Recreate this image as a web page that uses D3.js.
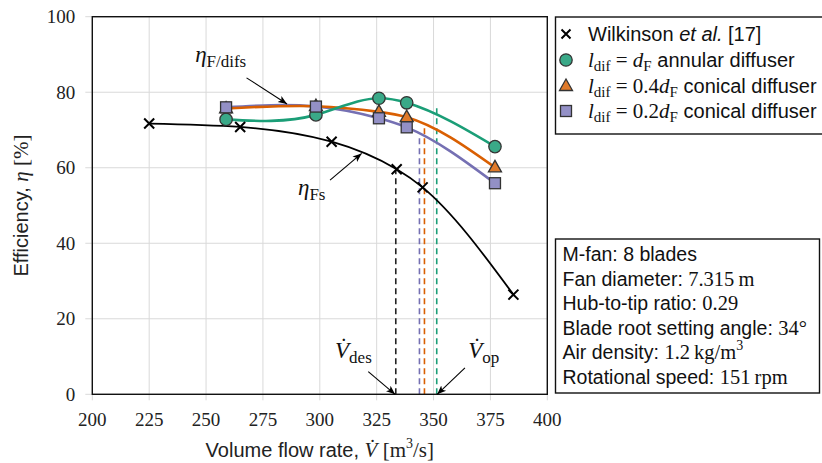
<!DOCTYPE html>
<html><head><meta charset="utf-8">
<script src="https://cdn.jsdelivr.net/npm/d3@7"></script>
<style>
body{margin:0;background:#fff;}
svg{display:block;}
text{font-family:"Liberation Sans",Arial,sans-serif;}
.serif{font-family:"Liberation Serif","Times New Roman",serif;}
</style></head>
<body><svg id="chart" width="822" height="463"></svg>
<script>
// ---------- data ----------
const xTicks = [200,225,250,275,300,325,350,375,400];
const yTicks = [0,20,40,60,80,100];

const wilkFlow = [225, 265, 305.2, 333.8, 345.2, 385.1];
const wilkEff  = [71.7, 70.8, 66.9, 59.6, 54.8, 26.4];

const cfdFlow   = [258.8, 298.3, 326.0, 338.2, 377.0];
const annularEff = [72.8, 74.0, 78.4, 77.2, 65.6];
const conical04Eff = [75.7, 76.3, 74.8, 73.4, 60.1];
const conical02Eff = [76.0, 76.2, 73.1, 70.7, 55.9];

// operating points (dashed lines): flow, efficiency
const opFlow = [333.4, 343.8, 346.0, 351.4];
const opEff  = [59.4, 68.7, 70.9, 75.8];
const opColor = ["#222","#7570b3","#d95f02","#1b9e77"];

const legendLabels = ["Wilkinson", "annular diffuser", "conical diffuser", "conical diffuser"];
const infoLines = [
  ["M-fan: 8 blades", ""],
  ["Fan diameter: ", "7.315\u2009m"],
  ["Hub-to-tip ratio: ", "0.29"],
  ["Blade root setting angle: ", "34°"],
  ["Air density: ", "1.2\u2009kg/m"],
  ["Rotational speed: ", "151\u2009rpm"]
];

// ---------- custom curve: natural cubic spline in x ----------
function SplineX(context){ this._context = context; }
SplineX.prototype = {
  areaStart(){ this._line = 0; }, areaEnd(){ this._line = NaN; },
  lineStart(){ this._x = []; this._y = []; },
  point(x, y){ this._x.push(+x); this._y.push(+y); },
  lineEnd(){
    const X = this._x, Y = this._y, n = X.length, c = this._context;
    if (!n) return;
    c.moveTo(X[0], Y[0]);
    if (n < 3){ for(let i=1;i<n;i++) c.lineTo(X[i],Y[i]); return; }
    const h = [], M = new Array(n).fill(0);
    for(let i=0;i<n-1;i++) h.push(X[i+1]-X[i]);
    const a=[],b=[],cc=[],r=[];
    for(let i=1;i<n-1;i++){
      a.push(h[i-1]); b.push(2*(h[i-1]+h[i])); cc.push(h[i]);
      r.push(6*((Y[i+1]-Y[i])/h[i] - (Y[i]-Y[i-1])/h[i-1]));
    }
    const m = b.length;
    for(let i=1;i<m;i++){ const w=a[i]/b[i-1]; b[i]-=w*cc[i-1]; r[i]-=w*r[i-1]; }
    const sol = new Array(m);
    sol[m-1]=r[m-1]/b[m-1];
    for(let i=m-2;i>=0;i--) sol[i]=(r[i]-cc[i]*sol[i+1])/b[i];
    for(let i=0;i<m;i++) M[i+1]=sol[i];
    for(let i=0;i<n-1;i++){
      const hi=h[i], s=(Y[i+1]-Y[i])/hi;
      const d0 = s - hi*(2*M[i]+M[i+1])/6;
      const d1 = s + hi*(M[i]+2*M[i+1])/6;
      c.bezierCurveTo(X[i]+hi/3, Y[i]+d0*hi/3, X[i+1]-hi/3, Y[i+1]-d1*hi/3, X[i+1], Y[i+1]);
    }
  }
};
const curveSplineX = ctx => new SplineX(ctx);

// ---------- layout ----------
const svg = d3.select("#chart");
const L = 92.3, R = 547.3, T = 16.7, B = 394.3;
const x = d3.scaleLinear().domain([200,400]).range([L,R]);
const y = d3.scaleLinear().domain([0,100]).range([B,T]);

const defs = svg.append("defs");
defs.append("marker").attr("id","ah").attr("viewBox","0 0 10 10").attr("refX",10).attr("refY",5)
  .attr("markerWidth",9).attr("markerHeight",9).attr("markerUnits","userSpaceOnUse").attr("orient","auto")
  .append("path").attr("d","M0,1 L10,5 L0,9 L2.5,5 Z").attr("fill","#000");

// grid
const g = svg.append("g");
g.selectAll(".gx").data(xTicks).join("line")
  .attr("x1",d=>x(d)).attr("x2",d=>x(d)).attr("y1",T).attr("y2",B+6)
  .attr("stroke","#d9d9d9").attr("stroke-width",1);
g.selectAll(".gy").data(yTicks).join("line")
  .attr("y1",d=>y(d)).attr("y2",d=>y(d)).attr("x1",L-7).attr("x2",R)
  .attr("stroke","#d9d9d9").attr("stroke-width",1);

// tick labels
g.selectAll(".tx").data(xTicks).join("text").attr("class","serif")
  .attr("x",d=>x(d)).attr("y",B+32).attr("text-anchor","middle")
  .attr("font-size",19).attr("fill","#222").text(d=>d);
g.selectAll(".ty").data(yTicks).join("text").attr("class","serif")
  .attr("x",L-17).attr("y",d=>y(d)+6.5).attr("text-anchor","end")
  .attr("font-size",19).attr("fill","#222").text(d=>d);

// axis titles
const xt = svg.append("text").attr("x",(L+R)/2).attr("y",457).attr("text-anchor","middle").attr("font-size",20).attr("fill","#222");
xt.append("tspan").text("Volume flow rate, ");
xt.append("tspan").attr("class","serif").attr("font-style","italic").attr("font-size",21).text("V\u0307");
xt.append("tspan").attr("class","serif").attr("font-size",21).text(" [m");
xt.append("tspan").attr("class","serif").attr("font-size",14).attr("dy",-9).text("3");
xt.append("tspan").attr("class","serif").attr("font-size",21).attr("dy",9).text("/s]");

const yt = svg.append("text").attr("transform",`translate(28,${(T+B)/2}) rotate(-90)`).attr("text-anchor","middle").attr("font-size",20).attr("fill","#222");
yt.append("tspan").text("Efficiency, ");
yt.append("tspan").attr("class","serif").attr("font-style","italic").attr("font-size",21).text("η");
yt.append("tspan").attr("class","serif").attr("font-size",21).text(" [%]");

// dashed op lines
svg.append("g").selectAll("line").data(opFlow).join("line")
  .attr("x1",d=>x(d)).attr("x2",d=>x(d)).attr("y1",B).attr("y2",(d,i)=>y(opEff[i]))
  .attr("stroke",(d,i)=>opColor[i]).attr("stroke-width",1.6).attr("stroke-dasharray","6,4");

// curves
const line = (xs,ys)=>d3.line().x(d=>x(d[0])).y(d=>y(d[1])).curve(curveSplineX)(xs.map((v,i)=>[v,ys[i]]));
svg.append("path").attr("d",line(wilkFlow,wilkEff)).attr("fill","none").attr("stroke","#000").attr("stroke-width",1.8);
svg.append("path").attr("d",line(cfdFlow,conical02Eff)).attr("fill","none").attr("stroke","#7570b3").attr("stroke-width",2.6);
svg.append("path").attr("d",line(cfdFlow,conical04Eff)).attr("fill","none").attr("stroke","#d95f02").attr("stroke-width",2.6);
svg.append("path").attr("d",line(cfdFlow,annularEff)).attr("fill","none").attr("stroke","#1b9e77").attr("stroke-width",2.6);

// markers
function cross(sel, cx, cy, s){
  sel.append("path").attr("d",`M${cx-s},${cy-s}L${cx+s},${cy+s}M${cx-s},${cy+s}L${cx+s},${cy-s}`)
    .attr("stroke","#000").attr("stroke-width",2).attr("fill","none");
}
function circ(sel,cx,cy){ sel.append("circle").attr("cx",cx).attr("cy",cy).attr("r",6.2).attr("fill","#3aa988").attr("stroke","#333").attr("stroke-width",1.3); }
function tri(sel,cx,cy){ sel.append("path").attr("d",`M${cx},${cy-7}L${cx+6.5},${cy+4.5}L${cx-6.5},${cy+4.5}Z`).attr("fill","#e07a2a").attr("stroke","#333").attr("stroke-width",1.3); }
function sq(sel,cx,cy){ sel.append("rect").attr("x",cx-5.5).attr("y",cy-5.5).attr("width",11).attr("height",11).attr("fill","#9390c6").attr("stroke","#333").attr("stroke-width",1.3); }

const mk = svg.append("g");
cfdFlow.forEach((v,i)=>circ(mk,x(v),y(annularEff[i])));
cfdFlow.forEach((v,i)=>tri(mk,x(v),y(conical04Eff[i])));
cfdFlow.forEach((v,i)=>sq(mk,x(v),y(conical02Eff[i])));
wilkFlow.forEach((v,i)=>cross(mk,x(v),y(wilkEff[i]),5));

// frame
svg.append("rect").attr("x",L).attr("y",T).attr("width",R-L).attr("height",B-T).attr("fill","none").attr("stroke","#111").attr("stroke-width",1.4);

// annotations
function arrow(x1,y1,x2,y2){
  svg.append("line").attr("x1",x(x1)).attr("y1",y(y1)).attr("x2",x(x2)).attr("y2",y(y2))
    .attr("stroke","#000").attr("stroke-width",1.1).attr("marker-end","url(#ah)");
}
function symLabel(vx,vy,main,sub,dot){
  const t = svg.append("text").attr("class","serif").attr("x",x(vx)).attr("y",y(vy)).attr("fill","#111");
  t.append("tspan").attr("font-style","italic").attr("font-size",23).text(main + (dot?"\u0307":""));
  t.append("tspan").attr("font-size",17).attr("dy",5).text(sub);
}
arrow(267.8,83.8,285.6,76.9);
symLabel(245.2,88,"η","F/difs");
arrow(304.5,56.7,318.4,63.8);
symLabel(290.4,52.8,"η","Fs");
arrow(321.3,6.0,333.1,0);
symLabel(306.7,9.6,"V","des",true);
arrow(363.8,7.0,351.6,0);
symLabel(365.2,9.6,"V","op",true);

// legend
const lg = svg.append("g");
lg.append("rect").attr("x",555.5).attr("y",17).attr("width",300).attr("height",117).attr("fill","#fff").attr("stroke","#111").attr("stroke-width",1.4);
const rowY = [34,60,86,111];
cross(lg,566,rowY[0],4.5);
circ(lg,566,rowY[1]);
tri(lg,566,rowY[2]);
sq(lg,566,rowY[3]);
const t0 = lg.append("text").attr("x",588).attr("y",rowY[0]+7).attr("font-size",20).attr("fill","#111");
t0.append("tspan").text("Wilkinson ");
t0.append("tspan").attr("font-style","italic").text("et al.");
t0.append("tspan").text(" [17]");
const coef = ["", "0.4", "0.2"];
[1,2,3].forEach(k=>{
  const t = lg.append("text").attr("x",588).attr("y",rowY[k]+7).attr("font-size",20).attr("fill","#111");
  t.append("tspan").attr("class","serif").attr("font-style","italic").attr("font-size",21).text("l");
  t.append("tspan").attr("class","serif").attr("font-size",15).attr("dy",4).text("dif");
  t.append("tspan").attr("class","serif").attr("font-size",21).attr("dy",-4).text(" = " + coef[k-1]);
  t.append("tspan").attr("class","serif").attr("font-style","italic").attr("font-size",21).text("d");
  t.append("tspan").attr("class","serif").attr("font-size",15).attr("dy",4).text("F");
  t.append("tspan").attr("dy",-4).text(" " + legendLabels[k]);
});

// info box
const ib = svg.append("g");
ib.append("rect").attr("x",555.5).attr("y",239).attr("width",264).attr("height",154).attr("fill","#fff").attr("stroke","#111").attr("stroke-width",1.4);
infoLines.forEach((ln,i)=>{
  const t = ib.append("text").attr("x",562.5).attr("y",261+i*24.5).attr("font-size",19.5).attr("fill","#111");
  t.append("tspan").text(ln[0]);
  if(ln[1]){
    t.append("tspan").attr("class","serif").attr("font-size",20.5).text(ln[1]);
    if(i===4) t.append("tspan").attr("class","serif").attr("font-size",14).attr("dy",-9).text("3");
  }
});
</script></body></html>
